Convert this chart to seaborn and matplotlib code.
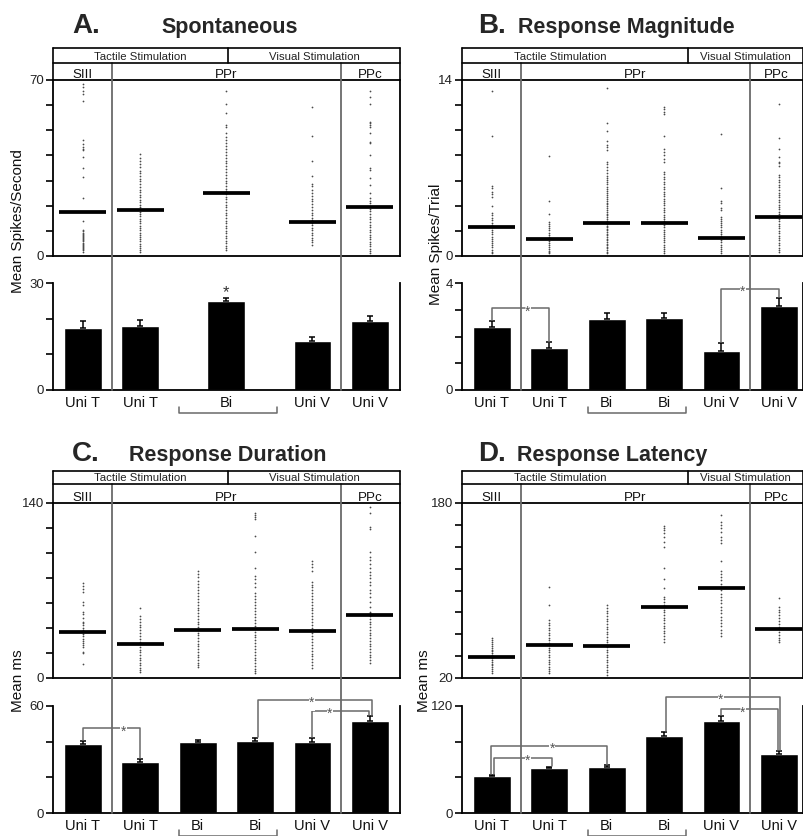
import numpy as np
import pandas as pd
import matplotlib
matplotlib.use("Agg")
import matplotlib.pyplot as plt
import matplotlib.transforms as mtransforms
from matplotlib.lines import Line2D
import seaborn as sns

# ---------------- data ----------------
# Panel A: Spontaneous (spikes/second)
a_pos = [0, 1, 2.5, 4, 5]
a_labels = ["Uni T", "Uni T", "Bi", "Uni V", "Uni V"]
a_means = [17.6, 18.3, 24.9, 13.7, 19.4]
a_bar = [17.5, 18.0, 24.9, 13.6, 19.3]
a_err = [1.9, 1.5, 1.0, 1.3, 1.4]
a_pts0 = [68.4, 67.1, 65.8, 64.4, 61.8, 46.1, 44.5, 43.2, 42.7, 42.2, 39.3, 35.1, 31.5, 23.2, 13.9,
          10.3, 9.8, 9.3, 8.9, 8.4, 8.0, 7.5, 7.1, 6.6, 6.2, 5.8, 5.3, 4.9, 4.4, 4.0, 3.5, 3.1, 2.6, 2.2, 1.7]
a_pts1 = [40.6, 39.0, 37.8, 36.5, 35.3, 34.0, 33.1, 32.0, 30.8, 29.7, 28.5, 27.6, 26.4, 25.5, 24.3, 23.4,
          22.2, 21.3, 20.4, 19.5, 18.6, 17.6, 16.7, 15.8, 14.9, 13.9, 13.0, 12.1, 11.2, 10.3, 9.3, 8.5,
          7.6, 6.7, 5.8, 4.9, 4.1, 3.3, 2.5, 1.7]
a_pts2 = [65.8, 60.4, 57.0, 52.1, 51.4, 48.8, 47.5, 46.3, 45.0, 43.9, 42.6, 41.4, 40.2, 39.1, 37.9, 36.8,
          35.6, 34.5, 33.3, 32.2, 31.1, 30.0, 28.9, 27.8, 26.7, 25.7, 24.6, 23.5, 22.5, 21.4, 20.4, 19.3,
          18.3, 17.3, 16.2, 15.2, 14.1, 13.1, 12.1, 11.0, 10.0, 9.0, 8.0, 7.0, 6.0, 5.0, 4.0, 3.2, 2.4]
a_pts3 = [59.4, 47.8, 37.9, 31.8, 28.6, 27.8, 26.3, 25.1, 24.0, 22.8, 21.7, 20.6, 19.5, 18.4, 17.3, 16.3,
          15.2, 14.2, 13.2, 12.2, 11.2, 10.2, 9.2, 8.2, 7.3, 6.4, 5.4, 4.4]
a_pts4 = [65.8, 63.1, 60.4, 53.4, 52.7, 52.1, 51.4, 48.8, 45.5, 45.1, 40.2, 34.9, 34.2, 30.9, 28.3, 25.0,
          23.0, 21.7, 21.0, 19.9, 18.8, 17.8, 16.7, 15.6, 14.6, 13.6, 12.5, 11.5, 10.5, 9.5, 8.5, 7.5,
          6.6, 5.6, 4.7, 3.8, 2.9, 2.0, 1.1]

# Panel B: Response Magnitude (spikes/trial)
b_pos = [0, 1, 2, 3, 4, 5]
b_labels = ["Uni T", "Uni T", "Bi", "Bi", "Uni V", "Uni V"]
b_means = [2.28, 1.38, 2.63, 2.65, 1.40, 3.10]
b_bar = [2.34, 1.56, 2.67, 2.69, 1.47, 3.14]
b_err = [0.25, 0.22, 0.20, 0.20, 0.29, 0.29]
b_pts0 = [13.15, 9.55, 5.56, 5.37, 5.10, 4.93, 4.67, 3.98, 3.45, 3.25, 3.05, 2.86, 2.66, 2.47, 2.28, 2.10,
          1.91, 1.73, 1.55, 1.37, 1.19, 1.02, 0.85, 0.68, 0.51, 0.35, 0.20]
b_pts1 = [7.96, 4.40, 3.34, 2.73, 2.55, 2.37, 2.20, 2.03, 1.86, 1.69, 1.52, 1.35, 1.19, 1.03, 0.87, 0.72,
          0.57, 0.42, 0.30, 0.20]
b_pts2 = [13.34, 10.55, 9.97, 9.17, 8.83, 8.65, 8.43, 7.50, 7.30, 7.08, 6.85, 6.62, 6.40, 6.20, 6.05, 5.88,
          5.70, 5.52, 5.35, 5.18, 5.02, 4.86, 4.70, 4.55, 4.40, 4.25, 4.10, 3.95, 3.80, 3.66, 3.52, 3.38,
          3.24, 3.10, 2.96, 2.82, 2.68, 2.55, 2.42, 2.29, 2.16, 2.03, 1.90, 1.77, 1.64, 1.51, 1.38, 1.25,
          1.12, 0.99, 0.86, 0.73, 0.60, 0.47, 0.34, 0.20]
b_pts3 = [11.82, 11.67, 11.48, 11.30, 9.55, 8.48, 8.25, 8.00, 7.75, 7.50, 6.71, 6.50, 6.30, 6.10, 5.90, 5.70,
          5.50, 5.30, 5.10, 4.92, 4.74, 4.56, 4.38, 4.20, 4.02, 3.84, 3.66, 3.48, 3.30, 3.12, 2.95, 2.78,
          2.61, 2.44, 2.27, 2.10, 1.93, 1.76, 1.59, 1.42, 1.25, 1.08, 0.91, 0.74, 0.57, 0.40, 0.20]
b_pts4 = [9.71, 5.37, 4.37, 4.24, 3.80, 3.66, 3.13, 2.95, 2.78, 2.61, 2.44, 2.27, 2.10, 1.93, 1.76, 1.59,
          1.42, 1.25, 1.08, 0.91, 0.74, 0.57, 0.40, 0.20]
b_pts5 = [12.09, 9.41, 8.48, 7.90, 7.50, 7.37, 7.16, 6.45, 6.25, 6.05, 5.85, 5.65, 5.45, 5.25, 5.05, 4.85,
          4.66, 4.47, 4.28, 4.09, 3.90, 3.71, 3.52, 3.33, 3.14, 2.95, 2.76, 2.57, 2.38, 2.19, 2.00, 1.81,
          1.62, 1.43, 1.24, 1.05, 0.86, 0.67, 0.48, 0.30]

# Panel C: Response Duration (ms)
c_pos = [0, 1, 2, 3, 4, 5]
c_labels = ["Uni T", "Uni T", "Bi", "Bi", "Uni V", "Uni V"]
c_means = [37.0, 26.9, 38.4, 38.9, 37.9, 50.1]
c_bar = [38.5, 28.6, 39.6, 40.6, 39.6, 51.8]
c_err = [2.1, 1.9, 1.3, 1.7, 2.7, 2.6]
c_pts0 = [76.3, 73.6, 70.9, 69.1, 61.1, 58.4, 53.1, 51.2, 47.7, 45.1, 44.0, 42.2, 40.4, 38.6, 36.8, 35.0,
          33.3, 31.5, 29.7, 27.9, 26.2, 25.1, 21.1, 19.7, 11.2]
c_pts1 = [56.3, 49.9, 47.5, 45.1, 42.8, 40.5, 38.2, 35.9, 33.6, 31.4, 29.2, 27.0, 24.8, 22.6, 20.5, 18.4,
          16.3, 14.2, 12.1, 10.1, 8.1, 6.5, 5.1]
c_pts2 = [85.6, 83.0, 80.5, 78.0, 75.5, 73.0, 70.6, 68.2, 65.8, 63.4, 61.0, 58.7, 56.4, 54.1, 51.8, 49.5,
          47.3, 45.1, 42.9, 40.7, 38.5, 36.3, 34.1, 31.9, 29.7, 27.5, 25.3, 23.1, 20.9, 18.7, 16.5, 14.3,
          12.1, 10.5, 9.0]
c_pts3 = [132.3, 130.4, 129.1, 127.0, 113.6, 100.5, 87.7, 81.6, 78.9, 75.7, 73.1, 67.7, 65.3, 62.9, 60.5,
          58.1, 55.7, 53.3, 50.9, 48.6, 46.3, 44.0, 41.7, 39.4, 37.1, 34.8, 32.5, 30.2, 27.9, 25.6, 23.3,
          21.0, 18.7, 16.4, 14.1, 11.8, 9.5, 7.3, 5.4, 3.7]
c_pts4 = [93.9, 91.2, 88.5, 85.9, 77.1, 74.8, 72.5, 70.2, 67.9, 65.6, 63.3, 61.0, 58.7, 56.4, 54.1, 51.8,
          49.5, 47.2, 44.9, 42.6, 40.3, 38.0, 35.7, 33.4, 31.1, 28.8, 26.5, 24.2, 21.9, 19.6, 17.3, 15.0,
          12.7, 10.3, 7.7]
c_pts5 = [137.1, 132.3, 121.1, 118.9, 101.1, 97.1, 94.4, 91.2, 87.7, 85.1, 82.4, 79.7, 77.1, 74.4, 70.4,
          67.7, 65.1, 61.1, 57.1, 53.1, 51.7, 49.5, 47.3, 45.1, 42.9, 40.7, 38.5, 36.3, 34.1, 31.9, 29.7,
          27.5, 25.3, 23.1, 20.9, 18.7, 16.5, 14.3, 11.7]

# Panel D: Response Latency (ms)
d_pos = [0, 1, 2, 3, 4, 5]
d_labels = ["Uni T", "Uni T", "Bi", "Bi", "Uni V", "Uni V"]
d_means = [39.5, 50.5, 49.5, 84.9, 102.0, 64.5]
d_bar = [41.5, 50.1, 51.6, 86.7, 103.5, 66.5]
d_err = [1.5, 1.8, 2.2, 4.5, 5.0, 3.4]
d_pts0 = [56.3, 54.5, 52.8, 51.1, 49.4, 47.7, 46.0, 44.4, 42.8, 41.2, 39.6, 38.0, 36.4, 34.8, 33.2, 31.6,
          30.0, 28.4, 26.7, 24.9]
d_pts1 = [102.9, 86.7, 73.0, 70.6, 68.2, 65.8, 63.5, 61.2, 58.9, 56.6, 54.4, 52.2, 50.0, 47.8, 45.6, 43.4,
          41.2, 39.0, 36.8, 34.6, 32.4, 30.2, 28.1, 26.1, 24.3]
d_pts2 = [86.7, 84.1, 81.6, 79.1, 76.6, 74.1, 71.7, 69.3, 66.9, 64.5, 62.1, 59.8, 57.5, 55.2, 52.9, 50.6,
          48.3, 46.0, 43.7, 41.4, 39.1, 36.8, 34.5, 32.2, 29.9, 27.6, 25.2, 22.7]
d_pts3 = [159.0, 157.0, 155.0, 152.3, 149.3, 144.7, 140.1, 120.9, 110.3, 102.6, 94.4, 92.0, 89.6, 87.2,
          84.8, 82.4, 80.0, 77.6, 75.2, 72.8, 70.4, 68.0, 65.6, 63.2, 60.8, 58.4, 55.9, 53.3]
d_pts4 = [169.0, 163.0, 160.0, 157.0, 153.9, 149.3, 146.3, 143.2, 127.1, 118.2, 115.2, 112.2, 109.2, 106.2,
          103.2, 100.2, 97.2, 94.2, 91.2, 88.2, 85.2, 82.2, 79.2, 76.2, 73.2, 70.2, 67.2, 64.2, 61.1, 58.0]
d_pts5 = [93.4, 85.2, 82.6, 80.0, 77.4, 74.8, 72.2, 69.6, 67.0, 64.4, 61.8, 59.2, 56.6, 55.0, 53.3]

# significance brackets: (left x, right x, bracket level, left leg end, right leg end, star x)
b_sig = [(0, 1, 3.05, 2.62, 1.81, 0.63), (4, 5, 3.78, 1.79, 3.46, 4.37)]
c_sig = [(0, 1, 47.5, 41.0, 30.9, 0.71), (3.05, 5.03, 63.4, 42.7, 54.8, 3.99),
         (3.99, 4.99, 57.4, 42.7, 54.8, 4.30)]
d_sig = [(0.03, 1.05, 62.0, 43.5, 52.5, 0.63), (-0.02, 2.0, 75.1, 43.5, 54.0, 1.05),
         (3.03, 5.02, 130.4, 91.5, 70.2, 3.99), (3.99, 4.98, 116.3, 109.8, 70.2, 4.37)]

# ---------------- style ----------------
sns.set_theme(style="ticks")
plt.rcParams["font.family"] = ["Liberation Sans", "DejaVu Sans"]
plt.rcParams["axes.edgecolor"] = "black"

W, H = 804, 836
fig = plt.figure(figsize=(W / 100, H / 100), dpi=100)
UNIT = 57.4
GRAY = "#6a6a6a"
DOT = "#4a4a4a"


def fx(px):
    return px / W


def fy(py):
    return 1 - py / H


TOP = dict(y_head=48, y_mid=63, y_top=80, y_sbot=256, y_btop=283, y_bbot=390, base=33)
BOT = dict(y_head=471, y_mid=484, y_top=503, y_sbot=678, y_btop=706, y_bbot=813, base=461)


def ends_only(ticks):
    return [str(t) if i in (0, len(ticks) - 1) else "" for i, t in enumerate(ticks)]


def draw_panel(g, left, right, letter, letter_x, title, title_cx, head_div, head_txt,
               pos, labels, pts, means, bars, errs, s_ylim, s_ticks, b_ylim, b_ticks,
               ylabel, ylab_x, ylab_y, sig, star_above=None):
    xmin = -0.52
    xmax = xmin + (right - left) / UNIT
    ax_s = fig.add_axes([fx(left), fy(g["y_sbot"]), (right - left) / W, (g["y_sbot"] - g["y_top"]) / H])
    ax_b = fig.add_axes([fx(left), fy(g["y_bbot"]), (right - left) / W, (g["y_bbot"] - g["y_btop"]) / H])
    p = np.asarray(pos, float)

    # ----- scatter panel -----
    df = pd.DataFrame({"pos": np.concatenate([[q] * len(v) for q, v in zip(p, pts)]),
                       "val": np.concatenate(pts)})
    sns.scatterplot(data=df, x="pos", y="val", ax=ax_s, s=1.6, color=DOT, linewidth=0,
                    legend=False, zorder=2)
    ax_s.hlines(means, p - 0.41, p + 0.41, color="black", lw=2.7, zorder=3)
    ax_s.set_xlim(xmin, xmax)
    ax_s.set_ylim(*s_ylim)
    ax_s.set_xticks([])
    ax_s.set_xlabel("")
    ax_s.set_ylabel("")
    ax_s.set_yticks(s_ticks)
    ax_s.set_yticklabels(ends_only(s_ticks))
    for sp in ax_s.spines.values():
        sp.set_visible(True)
        sp.set_linewidth(1.3)
        sp.set_color("black")
    ax_s.tick_params(axis="y", left=True, direction="out", length=5, width=1.2,
                     labelsize=9.5, pad=1.5, color="black", labelcolor="#222222")

    # ----- bar panel -----
    sns.barplot(x=p, y=bars, native_scale=True, width=0.66, color="black", saturation=1,
                errorbar=None, ax=ax_b, zorder=2)
    ax_b.errorbar(p, bars, yerr=[np.zeros(len(p)), errs], fmt="none", ecolor="black",
                  elinewidth=1.1, capsize=2.2, capthick=1.1, zorder=3)
    ax_b.set_xlim(xmin, xmax)
    ax_b.set_ylim(*b_ylim)
    ax_b.set_xlabel("")
    ax_b.set_ylabel("")
    ax_b.set_yticks(b_ticks)
    ax_b.set_yticklabels(ends_only(b_ticks))
    ax_b.set_xticks(p)
    ax_b.set_xticklabels(labels)
    ax_b.spines["top"].set_visible(False)
    for k in ("left", "bottom", "right"):
        ax_b.spines[k].set_visible(True)
        ax_b.spines[k].set_linewidth(1.3)
        ax_b.spines[k].set_color("black")
    ax_b.tick_params(axis="y", left=True, right=False, direction="out", length=5, width=1.2,
                     labelsize=9.5, pad=1.5, color="black", labelcolor="#222222")
    ax_b.tick_params(axis="x", bottom=False, length=0, labelsize=10.5, pad=4, labelcolor="#111111")

    # significance brackets
    star_tr = mtransforms.offset_copy(ax_b.transData, fig=fig, y=-5.2, units="points")
    for (x1, x2, yl, y1b, y2b, sx) in sig:
        ax_b.plot([x1, x1, x2, x2], [y1b, yl, yl, y2b], color=GRAY, lw=1.1, clip_on=False, zorder=4)
        ax_b.text(sx, yl, "*", transform=star_tr, ha="center", va="baseline", fontsize=10,
                  color="#555555", zorder=5,
                  bbox=dict(facecolor="white", edgecolor="none", pad=0.3))
    if star_above is not None:
        ax_b.text(star_above[0], star_above[1], "*", transform=star_tr, ha="center",
                  va="baseline", fontsize=12, color="#333333")

    # ----- header boxes, dividers (x in data units, y in figure units) -----
    tr = mtransforms.blended_transform_factory(ax_s.transData, fig.transFigure)
    hl = dict(transform=tr, color="black", lw=1.2, clip_on=False)
    fig.add_artist(Line2D([xmin, xmax], [fy(g["y_head"])] * 2, **hl))
    fig.add_artist(Line2D([xmin, xmax], [fy(g["y_mid"])] * 2, **hl))
    fig.add_artist(Line2D([xmin, xmin], [fy(g["y_head"]), fy(g["y_top"])], **hl))
    fig.add_artist(Line2D([xmax, xmax], [fy(g["y_head"]), fy(g["y_top"])], **hl))
    fig.add_artist(Line2D([head_div, head_div], [fy(g["y_head"]), fy(g["y_mid"])], **hl))
    for dv in (0.5, 4.5):
        fig.add_artist(Line2D([dv, dv], [fy(g["y_mid"]), fy(g["y_bbot"])], transform=tr,
                              color=GRAY, lw=1.3, clip_on=False, zorder=1))
    rb = fy(g["y_mid"] - 2.8)
    t_cx = head_txt[0] if head_txt else (xmin + head_div) / 2
    v_cx = head_txt[1] if head_txt else (head_div + xmax) / 2
    fig.text(t_cx, rb, "Tactile Stimulation", transform=tr, ha="center",
             va="baseline", fontsize=8.2, color="#222222")
    fig.text(v_cx, rb, "Visual Stimulation", transform=tr, ha="center",
             va="baseline", fontsize=8.2, color="#222222")
    r2 = fy(g["y_top"] - 1.5)
    for cx, t in (((xmin + 0.5) / 2, "SIII"), (2.5, "PPr"), ((4.5 + xmax) / 2, "PPc")):
        fig.text(cx, r2, t, transform=tr, ha="center", va="baseline", fontsize=9.6, color="#111111")

    # bracket under the two "Bi" labels
    bb = g["y_bbot"]
    fig.add_artist(Line2D([1.68, 1.68, 3.39, 3.39], [fy(bb + 17), fy(bb + 23), fy(bb + 23), fy(bb + 17)],
                          transform=mtransforms.blended_transform_factory(ax_b.transData, fig.transFigure),
                          color=GRAY, lw=1.1, clip_on=False))

    # titles and y label
    fig.text(fx(letter_x), fy(g["base"]), letter, fontsize=20, fontweight="bold", ha="left",
             va="baseline")
    fig.text(fx(title_cx), fy(g["base"]), title, fontsize=15.5, fontweight="bold", ha="center",
             va="baseline")
    fig.text(fx(ylab_x), fy(ylab_y), ylabel, rotation=90, ha="center", va="center", fontsize=11,
             color="#111111")


draw_panel(TOP, 53, 400, "A.", 72, "Spontaneous", 230, 2.53, None,
           a_pos, a_labels, [a_pts0, a_pts1, a_pts2, a_pts3, a_pts4], a_means, a_bar, a_err,
           (0, 70), list(range(0, 71, 10)), (0, 30), [0, 10, 20, 30],
           "Mean Spikes/Second", 18, 221, [], star_above=(2.5, 28.0))
draw_panel(TOP, 462, 803, "B.", 478, "Response Magnitude", 626, 3.41, (1.2, 4.41),
           b_pos, b_labels, [b_pts0, b_pts1, b_pts2, b_pts3, b_pts4, b_pts5], b_means, b_bar, b_err,
           (0, 14), list(range(0, 15, 2)), (0, 4), [0, 1, 2, 3, 4],
           "Mean Spikes/Trial", 436, 244, b_sig)
draw_panel(BOT, 53, 400, "C.", 72, "Response Duration", 228, 2.53, None,
           c_pos, c_labels, [c_pts0, c_pts1, c_pts2, c_pts3, c_pts4, c_pts5], c_means, c_bar, c_err,
           (0, 140), list(range(0, 141, 20)), (0, 60), [0, 20, 40, 60],
           "Mean ms", 18, 681, c_sig)
draw_panel(BOT, 462, 803, "D.", 478, "Response Latency", 612, 3.41, (1.2, 4.41),
           d_pos, d_labels, [d_pts0, d_pts1, d_pts2, d_pts3, d_pts4, d_pts5], d_means, d_bar, d_err,
           (20, 180), list(range(20, 181, 20)), (0, 120), [0, 40, 80, 120],
           "Mean ms", 424, 681, d_sig)

fig.savefig("out.png", dpi=100)
